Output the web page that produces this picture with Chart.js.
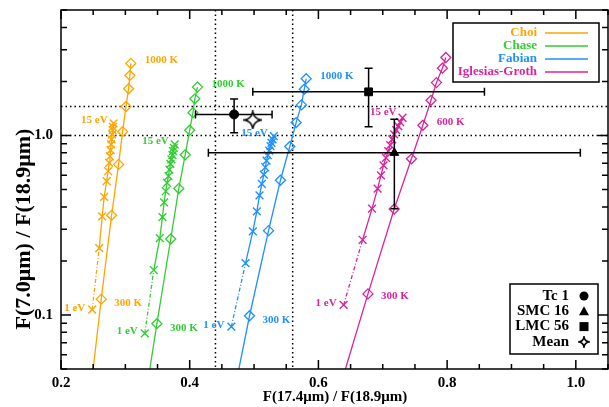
<!DOCTYPE html>
<html>
<head>
<meta charset="utf-8">
<script src="https://cdn.jsdelivr.net/npm/chart.js@4/dist/chart.umd.min.js"></script>
<style>
  html, body { margin: 0; padding: 0; background: #fff; }
</style>
</head>
<body>
<canvas id="chart" width="609" height="407"></canvas>
<script>
// model tracks: energy sequence (1..15 eV) and temperature sequence (300..1000 K)
var choiEvX = [0.2485, 0.2594, 0.264, 0.2671, 0.2709, 0.2733, 0.2749, 0.276, 0.277, 0.278, 0.2786, 0.2795, 0.2802, 0.2806, 0.2817];
var choiEvY = [0.107, 0.236, 0.354, 0.455, 0.556, 0.632, 0.704, 0.766, 0.828, 0.891, 0.950, 1.013, 1.07, 1.118, 1.167];
var choiTX = [0.250, 0.2625, 0.2786, 0.2895, 0.2957, 0.301, 0.305, 0.307, 0.3085];
var choiTY = [0.05, 0.1225, 0.359, 0.69, 1.05, 1.45, 1.82, 2.16, 2.52];

var chaseEvX = [0.3302, 0.3442, 0.3535, 0.3577, 0.3602, 0.3628, 0.3648, 0.367, 0.3685, 0.3701, 0.3716, 0.3732, 0.3741, 0.3752, 0.3767];
var chaseEvY = [0.079, 0.178, 0.268, 0.351, 0.424, 0.489, 0.544, 0.593, 0.646, 0.695, 0.735, 0.777, 0.817, 0.854, 0.891];
var chaseTX = [0.338, 0.349, 0.3705, 0.383, 0.393, 0.400, 0.405, 0.408, 0.412];
var chaseTY = [0.05, 0.0894, 0.265, 0.506, 0.78, 1.07, 1.34, 1.60, 1.86];

var fabianEvX = [0.4647, 0.4868, 0.4981, 0.5043, 0.5085, 0.5121, 0.5152, 0.5174, 0.5194, 0.5214, 0.5236, 0.5256, 0.5271, 0.5287, 0.5307];
var fabianEvY = [0.086, 0.1945, 0.292, 0.378, 0.464, 0.537, 0.605, 0.665, 0.725, 0.776, 0.824, 0.871, 0.910, 0.950, 0.991];
var fabianTX = [0.4764, 0.493, 0.5225, 0.541, 0.5555, 0.5654, 0.5736, 0.578, 0.581];
var fabianTY = [0.05, 0.099, 0.295, 0.563, 0.868, 1.18, 1.48, 1.81, 2.07];

var iglesiasEvX = [0.6392, 0.6687, 0.6833, 0.692, 0.6972, 0.7012, 0.705, 0.7085, 0.7116, 0.7147, 0.7178, 0.7209, 0.724, 0.7271, 0.7307];
var iglesiasEvY = [0.1137, 0.2624, 0.391, 0.506, 0.600, 0.682, 0.751, 0.817, 0.883, 0.950, 1.013, 1.07, 1.127, 1.187, 1.255];
var iglesiasTX = [0.642, 0.677, 0.7178, 0.7446, 0.7623, 0.775, 0.7834, 0.7927, 0.798];
var iglesiasTY = [0.05, 0.131, 0.389, 0.741, 1.14, 1.57, 1.97, 2.37, 2.72];

var modelNames = ['Choi', 'Chase', 'Fabian', 'Iglesias-Groth'];
var hotLabels = ['1000 K', '1000 K', '1000 K', '600 K'];
var hotIndex = [8, 8, 8, 4];

// observed objects
var objNames = ['Tc 1', 'SMC 16', 'LMC 56', 'Mean'];
var objX = [0.469, 0.718, 0.678, 0.498];
var objY = [1.31, 0.80, 1.75, 1.22];
var objXLo = [0.409, 0.429, 0.498, null];
var objXHi = [0.528, 1.007, 0.858, null];
var objYLo = [1.035, 0.39, 1.12, null];
var objYHi = [1.596, 1.23, 2.37, null];

var refX = [0.44, 0.56];
var refY = [1.0, 1.45];

var xTicks = [0.2, 0.4, 0.6, 0.8, 1.0];
var yTicks = [0.1, 1.0];

var colors = ['#FFA500', '#32CD32', '#1E90FF', '#D9259B'];
var serif = '"Liberation Serif", "Times New Roman", serif';

function pts(xs, ys) {
  return xs.map(function (v, i) { return {x: v, y: ys[i]}; });
}

function starImage(size) {
  var c = document.createElement('canvas');
  c.width = size; c.height = size;
  var g = c.getContext('2d');
  var m = size / 2, e = 1, f = size - 1, k = size * 0.06;
  g.lineWidth = 1.6;
  g.strokeStyle = '#000';
  g.fillStyle = '#fff';
  g.beginPath();
  g.moveTo(m, e);
  g.quadraticCurveTo(m + k, m - k, f, m);
  g.quadraticCurveTo(m + k, m + k, m, f);
  g.quadraticCurveTo(m - k, m + k, e, m);
  g.quadraticCurveTo(m - k, m - k, m, e);
  g.closePath();
  g.fill();
  g.stroke();
  return c;
}
var star = starImage(19);
var starSmall = starImage(12);

var models = [
  [choiEvX, choiEvY, choiTX, choiTY],
  [chaseEvX, chaseEvY, chaseTX, chaseTY],
  [fabianEvX, fabianEvY, fabianTX, fabianTY],
  [iglesiasEvX, iglesiasEvY, iglesiasTX, iglesiasTY]
];

var datasets = [];
// observations first so they sit on top
datasets.push({label: 'Tc 1', data: [{x: objX[0], y: objY[0]}], pointStyle: 'circle', pointRadius: 4.5, backgroundColor: '#000', borderColor: '#000'});
datasets.push({label: 'SMC 16', data: [{x: objX[1], y: objY[1]}], pointStyle: 'triangle', pointRadius: 5, backgroundColor: '#000', borderColor: '#000'});
datasets.push({label: 'LMC 56', data: [{x: objX[2], y: objY[2]}], pointStyle: 'rect', pointRadius: 5.5, backgroundColor: '#000', borderColor: '#000'});
datasets.push({label: 'Mean', data: [{x: objX[3], y: objY[3]}], pointStyle: star, pointRadius: 9});
var obsCount = datasets.length;

models.forEach(function (m, i) {
  datasets.push({
    label: modelNames[i] + ' eV',
    data: pts(m[0], m[1]),
    showLine: true,
    borderColor: colors[i],
    backgroundColor: 'rgba(0,0,0,0)',
    borderWidth: 1.3,
    pointStyle: 'crossRot',
    pointRadius: 5.5,
    pointBorderWidth: 1.4,
    segment: {borderDash: function (ctx) { return ctx.p0DataIndex === 0 ? [4, 2, 1, 2] : undefined; }}
  });
  datasets.push({
    label: modelNames[i] + ' K',
    data: pts(m[2], m[3]),
    showLine: true,
    borderColor: colors[i],
    backgroundColor: 'rgba(0,0,0,0)',
    borderWidth: 1.3,
    pointStyle: 'rectRot',
    pointRadius: m[2].map(function (v, j) { return j === 0 ? 0 : 5; }),
    pointBorderWidth: 1.3
  });
});

function drawErrorBars(chart) {
  var ctx = chart.ctx, x = chart.scales.x, y = chart.scales.y;
  ctx.save();
  ctx.strokeStyle = '#000';
  ctx.lineWidth = 1.5;
  for (var i = 0; i < objNames.length; i++) {
    if (objXLo[i] == null) continue;
    var px = x.getPixelForValue(objX[i]), py = y.getPixelForValue(objY[i]);
    var x0 = x.getPixelForValue(objXLo[i]), x1 = x.getPixelForValue(objXHi[i]);
    var y0 = y.getPixelForValue(objYLo[i]), y1 = y.getPixelForValue(objYHi[i]);
    ctx.beginPath();
    ctx.moveTo(x0, py); ctx.lineTo(x1, py);
    ctx.moveTo(x0, py - 4); ctx.lineTo(x0, py + 4);
    ctx.moveTo(x1, py - 4); ctx.lineTo(x1, py + 4);
    ctx.moveTo(px, y0); ctx.lineTo(px, y1);
    ctx.moveTo(px - 4, y0); ctx.lineTo(px + 4, y0);
    ctx.moveTo(px - 4, y1); ctx.lineTo(px + 4, y1);
    ctx.stroke();
  }
  ctx.restore();
}

var overlay = {
  id: 'overlay',
  beforeDatasetsDraw: function (chart) {
    var ctx = chart.ctx, a = chart.chartArea, x = chart.scales.x, y = chart.scales.y;
    ctx.save();
    ctx.strokeStyle = '#000';
    ctx.lineWidth = 1.5;
    ctx.setLineDash([1.5, 3]);
    ctx.beginPath();
    refX.forEach(function (v) { var p = x.getPixelForValue(v); ctx.moveTo(p, a.top); ctx.lineTo(p, a.bottom); });
    refY.forEach(function (v) { var p = y.getPixelForValue(v); ctx.moveTo(a.left, p); ctx.lineTo(a.right, p); });
    ctx.stroke();
    ctx.restore();
  },
  beforeDatasetDraw: function (chart, args) {
    if (args.index === obsCount - 1) drawErrorBars(chart);
  },
  afterDraw: function (chart) {
    var ctx = chart.ctx, a = chart.chartArea, x = chart.scales.x, y = chart.scales.y;
    ctx.save();
    // frame and inward ticks
    ctx.strokeStyle = '#000';
    ctx.lineWidth = 1.5;
    ctx.strokeRect(a.left, a.top, a.right - a.left, a.bottom - a.top);
    ctx.beginPath();
    for (var k = 0; k <= 17; k++) {
      var v = 0.2 + k * 0.05, p = x.getPixelForValue(v);
      var len = (k % 4 === 0) ? 9 : 5;
      ctx.moveTo(p, a.bottom); ctx.lineTo(p, a.bottom - len);
      ctx.moveTo(p, a.top); ctx.lineTo(p, a.top + len);
    }
    [0.01, 0.1, 1].forEach(function (dec) {
      for (var m = 1; m <= 9; m++) {
        var v = dec * m;
        if (v < 0.05 || v > 5.0001) continue;
        var p = y.getPixelForValue(v);
        var len = (m === 1) ? 10 : 6;
        ctx.moveTo(a.left, p); ctx.lineTo(a.left + len, p);
        ctx.moveTo(a.right, p); ctx.lineTo(a.right - len, p);
      }
    });
    ctx.stroke();

    // model annotations
    ctx.font = 'bold 11px ' + serif;
    ctx.textBaseline = 'middle';
    models.forEach(function (m, i) {
      ctx.fillStyle = colors[i];
      var last = m[0].length - 1;
      var ex0 = x.getPixelForValue(m[0][0]), ey0 = y.getPixelForValue(m[1][0]);
      var ex1 = x.getPixelForValue(m[0][last]), ey1 = y.getPixelForValue(m[1][last]);
      var tx0 = x.getPixelForValue(m[2][1]), ty0 = y.getPixelForValue(m[3][1]);
      var th = x.getPixelForValue(m[2][hotIndex[i]]), tyh = y.getPixelForValue(m[3][hotIndex[i]]);
      ctx.textAlign = 'right';
      ctx.fillText('1 eV', ex0 - 7, ey0 - 2);
      ctx.fillText('15 eV', ex1 - 6, ey1 - (i === 3 ? 6 : 3));
      ctx.textAlign = 'left';
      ctx.fillText('300 K', tx0 + 13, ty0 + (i === 3 ? 2 : 4));
      ctx.fillText(hotLabels[i], th + 14, tyh - 3);
    });

    // model legend
    ctx.fillStyle = '#fff';
    ctx.fillRect(453, 23, 146, 59);
    ctx.strokeStyle = '#000';
    ctx.lineWidth = 1.5;
    ctx.strokeRect(453, 23, 146, 59);
    ctx.font = 'bold 13px ' + serif;
    ctx.textAlign = 'right';
    modelNames.forEach(function (n, i) {
      var ry = 33 + i * 13;
      ctx.fillStyle = colors[i];
      ctx.fillText(n, 537, ry);
      ctx.strokeStyle = colors[i];
      ctx.lineWidth = 1.3;
      ctx.beginPath(); ctx.moveTo(545, ry); ctx.lineTo(588, ry); ctx.stroke();
    });

    // object legend
    ctx.fillStyle = '#fff';
    ctx.fillRect(510, 284, 88, 70);
    ctx.strokeStyle = '#000';
    ctx.lineWidth = 1.5;
    ctx.strokeRect(510, 284, 88, 70);
    ctx.font = 'bold 15px ' + serif;
    ctx.fillStyle = '#000';
    objNames.forEach(function (n, i) {
      var ry = 296 + i * 15.3;
      ctx.fillText(n, 569, ry);
      var sx = 584;
      ctx.beginPath();
      if (i === 0) { ctx.arc(sx, ry, 4.5, 0, Math.PI * 2); ctx.fill(); }
      else if (i === 1) { ctx.moveTo(sx, ry - 5); ctx.lineTo(sx + 5, ry + 4); ctx.lineTo(sx - 5, ry + 4); ctx.closePath(); ctx.fill(); }
      else if (i === 2) { ctx.fillRect(sx - 4.5, ry - 4.5, 9, 9); }
      else { ctx.drawImage(starSmall, sx - 6, ry - 6); }
    });

    // axis titles
    ctx.fillStyle = '#000';
    ctx.textAlign = 'center';
    ctx.font = 'bold 15px ' + serif;
    ctx.fillText('F(17.4\u03bcm) / F(18.9\u03bcm)', 335, 397);
    ctx.font = 'bold 22px ' + serif;
    ctx.translate(24, 229);
    ctx.rotate(-Math.PI / 2);
    ctx.fillText('F(7.0\u03bcm) / F(18.9\u03bcm)', 0, 0);
    ctx.restore();
  }
};

var ctx = document.getElementById('chart').getContext('2d');
new Chart(ctx, {
  type: 'scatter',
  data: {datasets: datasets},
  options: {
    responsive: false,
    animation: false,
    devicePixelRatio: 1,
    layout: {autoPadding: false, padding: {top: 10, right: 1, left: 0, bottom: 0}},
    plugins: {legend: {display: false}, tooltip: {enabled: false}},
    scales: {
      x: {
        type: 'linear', min: 0.2, max: 1.05,
        grid: {display: false, drawTicks: false},
        border: {display: false},
        afterBuildTicks: function (s) { s.ticks = xTicks.map(function (v) { return {value: v}; }); },
        afterFit: function (s) { s.height = 38; s.paddingLeft = 0; s.paddingRight = 0; },
        ticks: {color: '#000', font: {family: serif, size: 15, weight: 'bold'}, padding: 5, maxRotation: 0,
          callback: function (v) { return Number(v).toFixed(1); }}
      },
      y: {
        type: 'logarithmic', min: 0.05, max: 5,
        grid: {display: false, drawTicks: false},
        border: {display: false},
        afterBuildTicks: function (s) { s.ticks = yTicks.map(function (v) { return {value: v}; }); },
        afterFit: function (s) { s.width = 61; s.paddingTop = 0; s.paddingBottom = 0; },
        ticks: {color: '#000', font: {family: serif, size: 15, weight: 'bold'}, padding: 8,
          callback: function (v) { return Number(v).toFixed(1); }}
      }
    }
  },
  plugins: [overlay]
});
</script>
</body>
</html>
